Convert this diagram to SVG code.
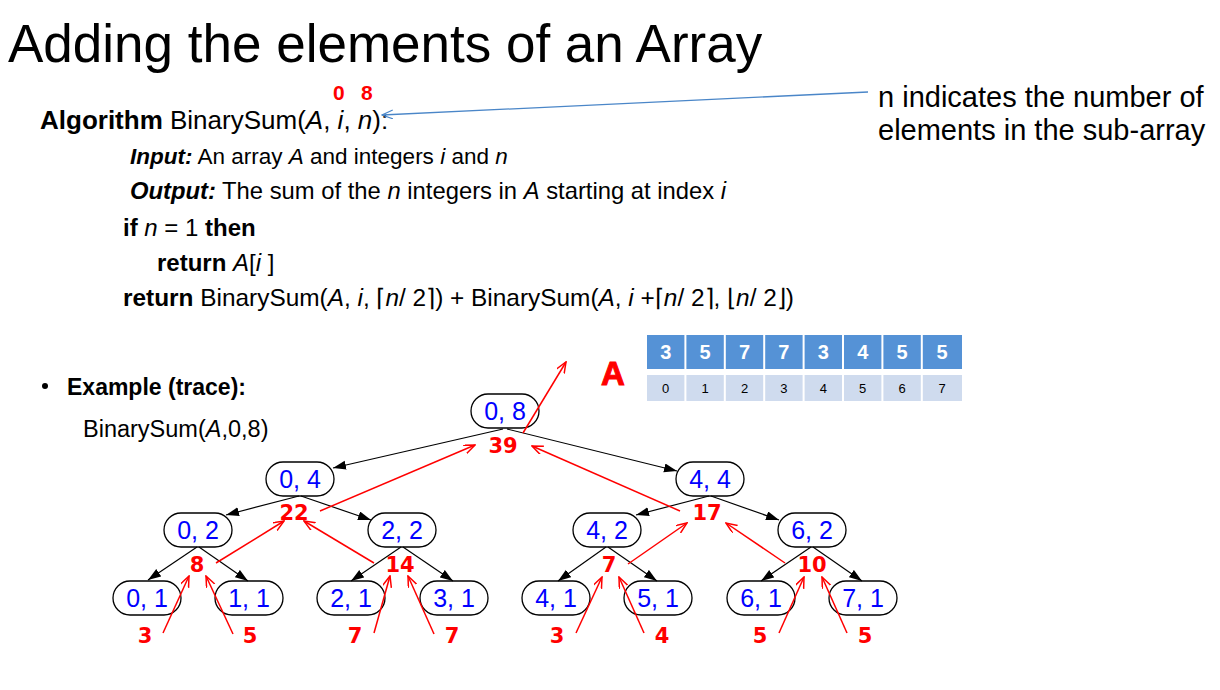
<svg xmlns="http://www.w3.org/2000/svg" width="1220" height="690" viewBox="0 0 1220 690">
<style>
.t{font-family:"Liberation Sans",Arial,sans-serif;fill:#000}
.node rect{fill:#fff;stroke:#000;stroke-width:1.3}
.node text{font-family:"Liberation Sans",Arial,sans-serif;font-size:25px;fill:#0000ff;text-anchor:middle}
.rv{font-family:"DejaVu Sans",Verdana,sans-serif;font-weight:bold;font-size:21px;fill:#ff0000;text-anchor:middle}
.blk{stroke:#000;stroke-width:1.2;fill:none;marker-end:url(#ab)}
.red{stroke:#ff0000;stroke-width:1.5;fill:none;marker-end:url(#ar)}
.top rect{fill:#5592d6}
.bot rect{fill:#cfdbee}
.top text{font-family:"Liberation Sans",Arial,sans-serif;font-weight:bold;font-size:20px;fill:#fff;text-anchor:middle}
.bot text{font-family:"Liberation Sans",Arial,sans-serif;font-size:13px;fill:#000;text-anchor:middle}
</style>
<defs>
<marker id="ab" markerUnits="userSpaceOnUse" markerWidth="14" markerHeight="10" refX="13" refY="4.5" orient="auto"><path d="M0,0 L13,4.5 L0,9 z" fill="#000"/></marker>
<marker id="ar" markerUnits="userSpaceOnUse" markerWidth="12" markerHeight="10" refX="11" refY="4.5" orient="auto"><path d="M0,0 L11,4.5 L0,9" fill="none" stroke="#ff0000" stroke-width="1.5"/></marker>
<marker id="abl" markerUnits="userSpaceOnUse" markerWidth="12" markerHeight="10" refX="11" refY="4.5" orient="auto"><path d="M0,0 L11,4.5 L0,9" fill="none" stroke="#4a86c8" stroke-width="1.3"/></marker>
</defs>
<rect width="1220" height="690" fill="#fff"/>

<g id="title"><text class="t" x="8" y="62" font-size="53">Adding the elements of an Array</text></g>

<g id="algorithm">
<text class="t" x="40" y="129" font-size="26"><tspan font-weight="bold">Algorithm</tspan> BinarySum(<tspan font-style="italic">A</tspan>, <tspan font-style="italic">i</tspan>, <tspan font-style="italic">n</tspan>):</text>
<text class="t" x="130" y="164" font-size="22.5"><tspan font-weight="bold" font-style="italic">Input:</tspan> An array <tspan font-style="italic">A</tspan> and integers <tspan font-style="italic">i</tspan> and <tspan font-style="italic">n</tspan></text>
<text class="t" x="130" y="199" font-size="23.8"><tspan font-weight="bold" font-style="italic">Output:</tspan> The sum of the <tspan font-style="italic">n</tspan> integers in <tspan font-style="italic">A</tspan> starting at index <tspan font-style="italic">i</tspan></text>
<text class="t" x="123" y="236" font-size="24"><tspan font-weight="bold">if</tspan> <tspan font-style="italic">n</tspan> = 1 <tspan font-weight="bold">then</tspan></text>
<text class="t" x="157" y="271" font-size="24"><tspan font-weight="bold">return</tspan> <tspan font-style="italic">A</tspan>[<tspan font-style="italic">i</tspan> ]</text>
<text class="t" x="123" y="306" font-size="24.4"><tspan font-weight="bold">return</tspan> BinarySum(<tspan font-style="italic">A</tspan>, <tspan font-style="italic">i</tspan>, ⌈<tspan font-style="italic">n</tspan>/ 2⌉) + BinarySum(<tspan font-style="italic">A</tspan>, <tspan font-style="italic">i</tspan> +⌈<tspan font-style="italic">n</tspan>/ 2⌉, ⌊<tspan font-style="italic">n</tspan>/ 2⌋)</text>
</g>

<g id="args">
<text x="333" y="100" font-family="Liberation Sans,Arial,sans-serif" font-weight="bold" font-size="21" fill="#ff0000">0</text>
<text x="361" y="100" font-family="Liberation Sans,Arial,sans-serif" font-weight="bold" font-size="21" fill="#ff0000">8</text>
</g>

<g id="note">
<text class="t" x="878" y="107" font-size="29">n indicates the number of</text>
<text class="t" x="878" y="140" font-size="29">elements in the sub-array</text>
</g>

<g id="example">
<circle cx="45" cy="386" r="3" fill="#000"/>
<text class="t" x="67" y="395" font-size="23" font-weight="bold">Example (trace):</text>
<text class="t" x="83" y="437" font-size="23.5">BinarySum(<tspan font-style="italic">A</tspan>,0,8)</text>
</g>

<g id="array">
<text x="601" y="385" font-family="Liberation Sans,Arial,sans-serif" font-weight="bold" font-size="33" fill="#ff0000" stroke="#ff0000" stroke-width="1">A</text>
<g class="top">
<rect x="647" y="335" width="37.4" height="34"/><rect x="686.4" y="335" width="37.4" height="34"/><rect x="725.8" y="335" width="37.4" height="34"/><rect x="765.2" y="335" width="37.4" height="34"/><rect x="804.6" y="335" width="37.4" height="34"/><rect x="844" y="335" width="37.4" height="34"/><rect x="883.4" y="335" width="37.4" height="34"/><rect x="922.8" y="335" width="39.2" height="34"/>
<text x="665.7" y="359">3</text><text x="705.1" y="359">5</text><text x="744.5" y="359">7</text><text x="783.9" y="359">7</text><text x="823.3" y="359">3</text><text x="862.7" y="359">4</text><text x="902.1" y="359">5</text><text x="942" y="359">5</text>
</g>
<g class="bot">
<rect x="647" y="375" width="37.4" height="26"/><rect x="686.4" y="375" width="37.4" height="26"/><rect x="725.8" y="375" width="37.4" height="26"/><rect x="765.2" y="375" width="37.4" height="26"/><rect x="804.6" y="375" width="37.4" height="26"/><rect x="844" y="375" width="37.4" height="26"/><rect x="883.4" y="375" width="37.4" height="26"/><rect x="922.8" y="375" width="39.2" height="26"/>
<text x="665.7" y="393">0</text><text x="705.1" y="393">1</text><text x="744.5" y="393">2</text><text x="783.9" y="393">3</text><text x="823.3" y="393">4</text><text x="862.7" y="393">5</text><text x="902.1" y="393">6</text><text x="942" y="393">7</text>
</g>
</g>

<g id="n08" class="node"><rect x="471" y="394" width="68" height="34" rx="17"/><text x="505" y="419.5">0, 8</text></g>
<g id="n04" class="node"><rect x="266" y="462" width="68" height="34" rx="17"/><text x="300" y="487.5">0, 4</text></g>
<g id="n44" class="node"><rect x="676" y="462" width="68" height="34" rx="17"/><text x="710" y="487.5">4, 4</text></g>
<g id="n02" class="node"><rect x="164" y="513" width="68" height="34" rx="17"/><text x="198" y="538.5">0, 2</text></g>
<g id="n22" class="node"><rect x="368" y="513" width="68" height="34" rx="17"/><text x="402" y="538.5">2, 2</text></g>
<g id="n42" class="node"><rect x="573" y="513" width="68" height="34" rx="17"/><text x="607" y="538.5">4, 2</text></g>
<g id="n62" class="node"><rect x="778" y="513" width="68" height="34" rx="17"/><text x="812" y="538.5">6, 2</text></g>
<g id="n01" class="node"><rect x="113" y="581" width="68" height="34" rx="17"/><text x="147" y="606.5">0, 1</text></g>
<g id="n11" class="node"><rect x="215" y="581" width="68" height="34" rx="17"/><text x="249" y="606.5">1, 1</text></g>
<g id="n21" class="node"><rect x="317" y="581" width="68" height="34" rx="17"/><text x="351" y="606.5">2, 1</text></g>
<g id="n31" class="node"><rect x="420" y="581" width="68" height="34" rx="17"/><text x="454" y="606.5">3, 1</text></g>
<g id="n41" class="node"><rect x="522" y="581" width="68" height="34" rx="17"/><text x="556" y="606.5">4, 1</text></g>
<g id="n51" class="node"><rect x="624" y="581" width="68" height="34" rx="17"/><text x="658" y="606.5">5, 1</text></g>
<g id="n61" class="node"><rect x="727" y="581" width="68" height="34" rx="17"/><text x="761" y="606.5">6, 1</text></g>
<g id="n71" class="node"><rect x="829" y="581" width="68" height="34" rx="17"/><text x="863" y="606.5">7, 1</text></g>

<g id="values">
<text class="rv" x="503" y="453">39</text>
<text class="rv" x="294" y="520">22</text>
<text class="rv" x="707" y="520">17</text>
<text class="rv" x="197" y="572">8</text>
<text class="rv" x="400" y="572">14</text>
<text class="rv" x="609" y="572">7</text>
<text class="rv" x="812" y="572">10</text>
<text class="rv" x="145" y="643">3</text>
<text class="rv" x="250" y="643">5</text>
<text class="rv" x="355" y="643">7</text>
<text class="rv" x="452" y="643">7</text>
<text class="rv" x="557" y="643">3</text>
<text class="rv" x="662" y="643">4</text>
<text class="rv" x="760" y="643">5</text>
<text class="rv" x="865" y="643">5</text>
</g>

<g id="connectors">
<line x1="868" y1="92" x2="382" y2="115" stroke="#4a86c8" stroke-width="1.3" marker-end="url(#abl)"/>
<line class="blk" x1="503" y1="429" x2="333" y2="468"/>
<line class="blk" x1="507" y1="429" x2="677" y2="471"/>
<line class="blk" x1="299" y1="496" x2="226" y2="515"/>
<line class="blk" x1="301" y1="496" x2="371" y2="520"/>
<line class="blk" x1="197" y1="547" x2="148" y2="580"/>
<line class="blk" x1="199" y1="547" x2="248" y2="581"/>
<line class="blk" x1="401" y1="547" x2="351" y2="581"/>
<line class="blk" x1="403" y1="547" x2="453" y2="581"/>
<line class="blk" x1="709" y1="496" x2="636" y2="515"/>
<line class="blk" x1="711" y1="496" x2="779" y2="520"/>
<line class="blk" x1="606" y1="547" x2="558" y2="581"/>
<line class="blk" x1="608" y1="547" x2="657" y2="581"/>
<line class="blk" x1="811" y1="547" x2="761" y2="581"/>
<line class="blk" x1="813" y1="547" x2="862" y2="581"/>
<line class="red" x1="163" y1="633" x2="189" y2="576"/>
<line class="red" x1="233" y1="634" x2="206" y2="576"/>
<line class="red" x1="374" y1="633" x2="390" y2="576"/>
<line class="red" x1="434" y1="634" x2="408" y2="576"/>
<line class="red" x1="576" y1="633" x2="602" y2="577"/>
<line class="red" x1="644" y1="633" x2="619" y2="577"/>
<line class="red" x1="779" y1="633" x2="804" y2="577"/>
<line class="red" x1="847" y1="633" x2="822" y2="577"/>
<line class="red" x1="216" y1="563" x2="284" y2="521"/>
<line class="red" x1="374" y1="563" x2="304" y2="521"/>
<line class="red" x1="628" y1="564" x2="687" y2="523"/>
<line class="red" x1="785" y1="563" x2="726" y2="523"/>
<line class="red" x1="320" y1="511" x2="475" y2="445"/>
<line class="red" x1="680" y1="511" x2="532" y2="446"/>
<line class="red" x1="523" y1="433" x2="566" y2="362"/>
</g>
</svg>
